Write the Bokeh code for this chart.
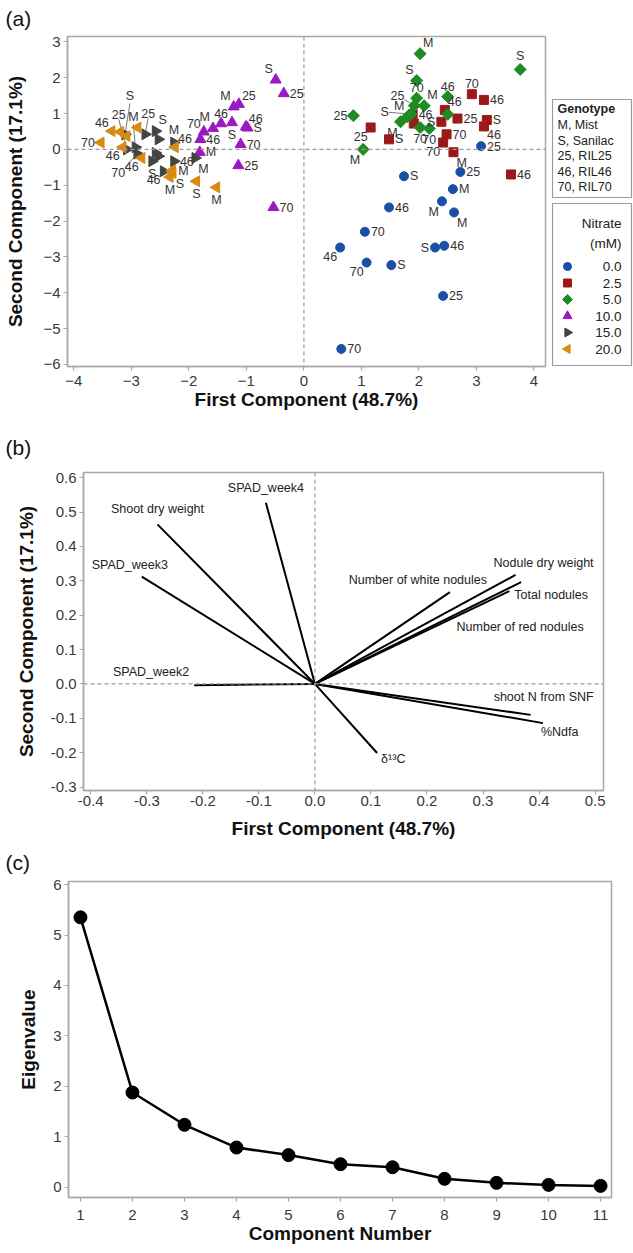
import math
from bokeh.plotting import figure
from bokeh.models import Range1d, FixedTicker, PrintfTickFormatter, Span, ColumnDataSource
from bokeh.layouts import column, row
from bokeh.embed import file_html
from bokeh.resources import INLINE
from bokeh.core.properties import value

FONT = "Liberation Sans"

# ---------------- Panel (a): PCA scores ----------------
nitrate_levels = ["0.0", "2.5", "5.0", "10.0", "15.0", "20.0"]
genotype_codes = ["M", "S", "25", "46", "70"]
genotype_names = ["Mist", "Sanilac", "RIL25", "RIL46", "RIL70"]

pc1_n00 = [3.08, 2.72, 1.74, 2.59, 2.40, 2.61, 1.48, 1.06, 0.63, 1.09, 1.52, 2.28, 2.44, 2.42, 0.65]
pc2_n00 = [0.09, -0.63, -0.75, -1.11, -1.45, -1.76, -1.62, -2.30, -2.74, -3.16, -3.23, -2.74, -2.69, -4.09, -5.57]
gen_n00 = ["25", "25", "S", "M", "M", "M", "46", "70", "46", "70", "S", "S", "46", "25", "70"]

pc1_n25 = [2.92, 3.13, 2.45, 2.67, 2.39, 3.18, 3.13, 1.91, 1.16, 1.48, 2.48, 2.42, 2.60, 3.60, 1.89]
pc2_n25 = [1.54, 1.38, 1.10, 0.86, 0.77, 0.82, 0.64, 0.72, 0.61, 0.28, 0.42, 0.19, -0.08, -0.70, 0.98]
gen_n25 = ["70", "46", "46", "25", "S", "S", "46", "M", "25", "S", "70", "70", "M", "46", "46"]

pc1_n50 = [2.02, 3.76, 1.96, 2.50, 1.96, 1.92, 2.09, 2.50, 1.80, 1.68, 2.02, 2.18, 0.86, 1.03, 1.86]
pc2_n50 = [2.67, 2.23, 1.92, 1.47, 1.43, 1.22, 1.22, 0.98, 0.91, 0.77, 0.61, 0.58, 0.94, 0.00, 0.98]
gen_n50 = ["M", "S", "S", "46", "70", "25", "M", "46", "M", "M", "70", "70", "25", "M", "S"]

pc1_n100 = [-0.49, -0.35, -1.22, -1.13, -1.44, -1.58, -1.74, -1.25, -1.01, -0.98, -1.80, -1.10, -1.81, -1.14, -0.53]
pc2_n100 = [1.94, 1.56, 1.19, 1.26, 0.72, 0.59, 0.49, 0.75, 0.63, 0.60, 0.28, 0.14, -0.08, -0.45, -1.62]
gen_n100 = ["S", "25", "M", "25", "46", "M", "70", "S", "46", "S", "46", "70", "M", "25", "70"]

pc1_n150 = [-2.76, -2.58, -2.53, -2.26, -2.93, -2.90, -2.58, -2.53, -2.64, -2.26, -2.44, -1.89, -3.08, -3.11]
pc2_n150 = [0.42, 0.51, 0.28, 0.19, 0.06, -0.12, -0.10, -0.19, -0.33, -0.33, -0.61, -0.24, 0.00, 0.42]
gen_n150 = ["25", "S", "70", "M", "M", "70", "46", "25", "S", "46", "46", "M", "25", "S"]

pc1_n200 = [-3.53, -3.34, -3.19, -3.08, -2.89, -3.15, -2.24, -2.82, -2.29, -2.33, -1.87, -1.52, -2.28]
pc2_n200 = [0.19, 0.51, 0.49, 0.37, 0.61, 0.06, 0.06, -0.24, -0.59, -0.77, -0.89, -1.06, -0.66]
gen_n200 = ["70", "46", "25", "M", "S", "46", "46", "46", "M", "M", "S", "M", "S"]

# label placement codes (layout only; "" = label hidden by overlap)
pos_n00 = ["r", "r", "r", "r", "bl", "br", "r", "r", "bl", "bl", "r", "l", "r", "r", "r"]
pos_n25 = ["a", "r", "ar", "r", "l", "r", "br", "", "bl", "r", "r", "bl", "br", "r", "r"]
pos_n50 = ["ar", "a", "al", "a", "a", "AL", "ar", "", "al", "bl", "b", "b", "l", "bl", "L"]
pos_n100 = ["al", "r", "al", "ar", "a", "al", "al", "b", "ar", "r", "r", "r", "r", "r", "r"]
pos_n150 = ["AA", "ar", "", "a", "AB", "BL", "", "", "b", "r", "bl", "br", "AC", "AD"]
pos_n200 = ["l", "al", "", "", "", "bl", "ar", "bl", "r", "b", "b", "b", "br"]

groups = [
    (pc1_n00, pc2_n00, gen_n00, pos_n00),
    (pc1_n25, pc2_n25, gen_n25, pos_n25),
    (pc1_n50, pc2_n50, gen_n50, pos_n50),
    (pc1_n100, pc2_n100, gen_n100, pos_n100),
    (pc1_n150, pc2_n150, gen_n150, pos_n150),
    (pc1_n200, pc2_n200, gen_n200, pos_n200),
]
group_markers = ["circle", "square", "square", "triangle", "triangle", "triangle"]
group_angles = [0.0, 0.0, math.pi / 4, 0.0, -math.pi / 2, math.pi / 2]
group_sizes = [9, 9, 8.5, 11, 11, 11]
legend_sizes = [8, 8, 7, 9, 9, 9]
group_colors = ["#1b4fa6", "#9a1a1a", "#1e8c23", "#9b19c4", "#444444", "#d88a12"]

ANCH = {
    "r": (6, 0, "left", "middle"),
    "l": (-6, 0, "right", "middle"),
    "a": (0, -6, "center", "bottom"),
    "b": (0, 6, "center", "top"),
    "ar": (3, -4, "left", "bottom"),
    "al": (-3, -4, "right", "bottom"),
    "br": (3, 4, "left", "top"),
    "bl": (-3, 4, "right", "top"),
    "AL": (-10, -6, "right", "bottom"),
    "L": (-22, -2, "right", "middle"),
    "BL": (-12, 14, "right", "top"),
    "AA": (3, -16, "center", "bottom"),
    "AB": (-2, -23, "center", "bottom"),
    "AC": (-8, -30, "center", "bottom"),
    "AD": (5, -31, "center", "bottom"),
}

TICK_COL = "#a9a9a9"
TXT_COL = "#3a3a3a"


def style(p, tick_size="15px"):
    p.xgrid.visible = False
    p.ygrid.visible = False
    p.outline_line_color = TICK_COL
    p.outline_line_width = 1.5
    for ax in p.axis:
        ax.axis_line_color = TICK_COL
        ax.axis_line_width = 1.5
        ax.major_tick_line_color = TICK_COL
        ax.major_tick_line_width = 1.2
        ax.major_tick_out = 4
        ax.major_tick_in = 0
        ax.minor_tick_line_color = None
        ax.major_label_text_font = FONT
        ax.major_label_text_font_size = tick_size
        ax.major_label_text_color = TXT_COL
        ax.axis_label_text_font = FONT
        ax.axis_label_text_font_size = "19px"
        ax.axis_label_text_font_style = "bold"
        ax.axis_label_text_color = "#111111"


def panel_title(p, txt, offset, standoff):
    p.title.text = txt
    p.title.text_font = FONT
    p.title.text_font_size = "21px"
    p.title.text_font_style = "normal"
    p.title.text_color = "#111111"
    p.title.align = "left"
    p.title.vertical_align = "top"
    p.title.offset = offset
    p.title.standoff = standoff


# ---- figure (a)
AX0, AX1, AY0, AY1 = -4.11, 4.2, -6.06, 3.15
A_W, A_H = 551, 412
A_L, A_R, A_T, A_B = 67, 6, 36, 46
pa = figure(width=A_W, height=A_H, x_range=Range1d(AX0, AX1), y_range=Range1d(AY0, AY1),
            output_backend="svg", toolbar_location=None,
            min_border_left=A_L, min_border_right=A_R, min_border_top=A_T, min_border_bottom=A_B)
style(pa)
panel_title(pa, "(a)", 10 - A_L - 5, 10)
pa.xaxis.ticker = FixedTicker(ticks=[-4, -3, -2, -1, 0, 1, 2, 3, 4])
pa.yaxis.ticker = FixedTicker(ticks=[-6, -5, -4, -3, -2, -1, 0, 1, 2, 3])
pa.xaxis.axis_label = "First Component (48.7%)"
pa.yaxis.axis_label = "Second Component (17.1%)"
pa.xaxis.major_label_standoff = 5
pa.xaxis.axis_label_standoff = 0
pa.yaxis.major_label_standoff = 3
pa.yaxis.axis_label_standoff = 14
pa.add_layout(Span(location=0, dimension="width", line_color="#9a9a9a", line_dash="4 3", line_width=1.2))
pa.add_layout(Span(location=0, dimension="height", line_color="#9a9a9a", line_dash="4 3", line_width=1.2))

fw = A_W - A_L - A_R
fh = A_H - A_T - A_B
sxa = fw / (AX1 - AX0)
sya = fh / (AY1 - AY0)

lx0, ly0, lx1, ly1 = [], [], [], []
tx, ty, tt, tdx, tdy, tal, tbl = [], [], [], [], [], [], []
for (xs, ys, gs, ps) in groups:
    for x, y, g, pcode in zip(xs, ys, gs, ps):
        if not pcode:
            continue
        dx, dy, al, bl = ANCH[pcode]
        tx.append(x); ty.append(y); tt.append(g)
        tdx.append(dx); tdy.append(dy); tal.append(al); tbl.append(bl)
        if max(abs(dx), abs(dy)) > 9:
            lx0.append(x); ly0.append(y)
            lx1.append(x + dx / sxa); ly1.append(y - dy / sya)

pa.segment(x0=lx0, y0=ly0, x1=lx1, y1=ly1, line_color="#555555", line_width=0.8)

for (xs, ys, gs, ps), mk, ang, sz, col in zip(groups, group_markers, group_angles, group_sizes, group_colors):
    pa.scatter(x=xs, y=ys, marker=mk, angle=ang, size=sz, fill_color=col, line_color=col)

lab_src = ColumnDataSource(dict(x=tx, y=ty, t=tt, dx=tdx, dy=tdy, al=tal, bl=tbl))
pa.text(x="x", y="y", text="t", x_offset="dx", y_offset="dy", text_align="al", text_baseline="bl",
        source=lab_src, text_font=value(FONT), text_font_size="12.5px", text_color="#333333")

# ---- legend panel beside (a); its frame shares (a)'s vertical extent, ranges are page pixels
LW = 633 - A_W
pl = figure(width=LW, height=A_H, x_range=Range1d(A_W, 633), y_range=Range1d(A_H - A_B, A_T),
            x_axis_type=None, y_axis_type=None, output_backend="svg", toolbar_location=None,
            min_border_left=0, min_border_right=0, min_border_top=A_T, min_border_bottom=A_B,
            outline_line_color=None)
pl.xgrid.visible = False
pl.ygrid.visible = False
pl.quad(left=[552, 552], right=[631, 631], top=[99, 203], bottom=[197, 365],
        fill_color="white", line_color="#9a9a9a", line_width=1.2)
pl.text(x=[557], y=[108], text=["Genotype"], text_font=value(FONT), text_font_size="12.5px",
        text_font_style="bold", text_baseline="middle", text_color="#222222")
g_lab = [c + ", " + n for c, n in zip(genotype_codes, genotype_names)]
pl.text(x=[557] * len(g_lab), y=[124.5 + 15.6 * i for i in range(len(g_lab))], text=g_lab,
        text_font=value(FONT), text_font_size="12.5px", text_baseline="middle", text_color="#222222")
pl.text(x=[621, 621], y=[223, 243], text=["Nitrate", "(mM)"], text_font=value(FONT),
        text_font_size="13.5px", text_align="right", text_baseline="middle", text_color="#222222")
ny = [266 + 16.5 * i for i in range(len(nitrate_levels))]
for i, (mk, ang, sz, col) in enumerate(zip(group_markers, group_angles, legend_sizes, group_colors)):
    pl.scatter(x=[567], y=[ny[i]], marker=mk, angle=ang, size=sz, fill_color=col, line_color=col)
pl.text(x=[621] * len(nitrate_levels), y=ny, text=nitrate_levels, text_font=value(FONT),
        text_font_size="13.5px", text_align="right", text_baseline="middle", text_color="#222222")

# ---------------- Panel (b): loadings ----------------
var_names = ["Shoot dry weight", "SPAD_week4", "SPAD_week3", "SPAD_week2", "Number of white nodules",
             "Nodule dry weight", "Total nodules", "Number of red nodules", "shoot N from SNF",
             "%Ndfa", "\u03b4\u00b9\u00b3C"]
load_pc1 = [-0.281, -0.0875, -0.309, -0.2155, 0.241, 0.358, 0.347, 0.368, 0.385, 0.407, 0.111]
load_pc2 = [0.464, 0.527, 0.312, -0.004, 0.267, 0.317, 0.270, 0.296, -0.090, -0.114, -0.201]
lab_dx = [0, 0, -12, -5, 37, 28, 5, -1, 13, -2, 4]
lab_dy = [-8, -8, -5, -6, -5, -5, 4, 45, -18, 9, 6]
lab_align = ["center", "center", "center", "right", "right", "center", "left", "center", "center", "left", "left"]
lab_base = ["bottom", "bottom", "bottom", "bottom", "bottom", "bottom", "middle", "middle", "middle", "middle", "middle"]

BX0, BX1, BY0, BY1 = -0.413, 0.515, -0.31, 0.615
B_W, B_H = 633, 430
B_L, B_R, B_T, B_B = 83, 30, 60, 52
pb = figure(width=B_W, height=B_H, x_range=Range1d(BX0, BX1), y_range=Range1d(BY0, BY1),
            output_backend="svg", toolbar_location=None,
            min_border_left=B_L, min_border_right=B_R, min_border_top=B_T, min_border_bottom=B_B)
style(pb)
panel_title(pb, "(b)", 10 - B_L - 5, 23)
pb.xaxis.ticker = FixedTicker(ticks=[-0.4, -0.3, -0.2, -0.1, 0.0, 0.1, 0.2, 0.3, 0.4, 0.5])
pb.yaxis.ticker = FixedTicker(ticks=[-0.3, -0.2, -0.1, 0.0, 0.1, 0.2, 0.3, 0.4, 0.5, 0.6])
pb.xaxis.formatter = PrintfTickFormatter(format="%.1f")
pb.yaxis.formatter = PrintfTickFormatter(format="%.1f")
pb.xaxis.axis_label = "First Component (48.7%)"
pb.yaxis.axis_label = "Second Component (17.1%)"
pb.xaxis.major_label_standoff = 1
pb.xaxis.axis_label_standoff = 9
pb.yaxis.major_label_standoff = 3
pb.yaxis.axis_label_standoff = 11
pb.add_layout(Span(location=0, dimension="width", line_color="#9a9a9a", line_dash="4 3", line_width=1.2))
pb.add_layout(Span(location=0, dimension="height", line_color="#9a9a9a", line_dash="4 3", line_width=1.2))
pb.segment(x0=[0] * len(load_pc1), y0=[0] * len(load_pc2), x1=load_pc1, y1=load_pc2,
           line_color="black", line_width=2)
bsrc = ColumnDataSource(dict(x=load_pc1, y=load_pc2, t=var_names, dx=lab_dx, dy=lab_dy,
                             al=lab_align, bl=lab_base))
pb.text(x="x", y="y", text="t", x_offset="dx", y_offset="dy", text_align="al", text_baseline="bl",
        source=bsrc, text_font=value(FONT), text_font_size="12.5px", text_color="#222222")

# ---------------- Panel (c): scree plot ----------------
component_number = [1, 2, 3, 4, 5, 6, 7, 8, 9, 10, 11]
eigenvalue = [5.35, 1.88, 1.24, 0.79, 0.64, 0.46, 0.40, 0.17, 0.09, 0.05, 0.03]

CX0, CX1, CY0, CY1 = 0.77, 11.21, -0.20, 6.06
C_W, C_H = 633, 411
C_L, C_R, C_T, C_B = 68, 22, 39, 56
pc = figure(width=C_W, height=C_H, x_range=Range1d(CX0, CX1), y_range=Range1d(CY0, CY1),
            output_backend="svg", toolbar_location=None,
            min_border_left=C_L, min_border_right=C_R, min_border_top=C_T, min_border_bottom=C_B)
style(pc)
panel_title(pc, "(c)", 10 - C_L - 5, 12)
pc.xaxis.ticker = FixedTicker(ticks=component_number)
pc.yaxis.ticker = FixedTicker(ticks=[0, 1, 2, 3, 4, 5, 6])
pc.xaxis.axis_label = "Component Number"
pc.yaxis.axis_label = "Eigenvalue"
pc.xaxis.major_label_standoff = 8
pc.xaxis.axis_label_standoff = 0
pc.yaxis.major_label_standoff = 3
pc.yaxis.axis_label_standoff = 11
pc.line(x=component_number, y=eigenvalue, line_color="black", line_width=2.5)
pc.scatter(x=component_number, y=eigenvalue, marker="circle", size=13, fill_color="black", line_color="black")

# each panel wrapped in its own row so the column does not align their frames
layout = column(row(pa, pl), row(pb), row(pc))
open("out.html", "w").write(file_html(layout, INLINE))
